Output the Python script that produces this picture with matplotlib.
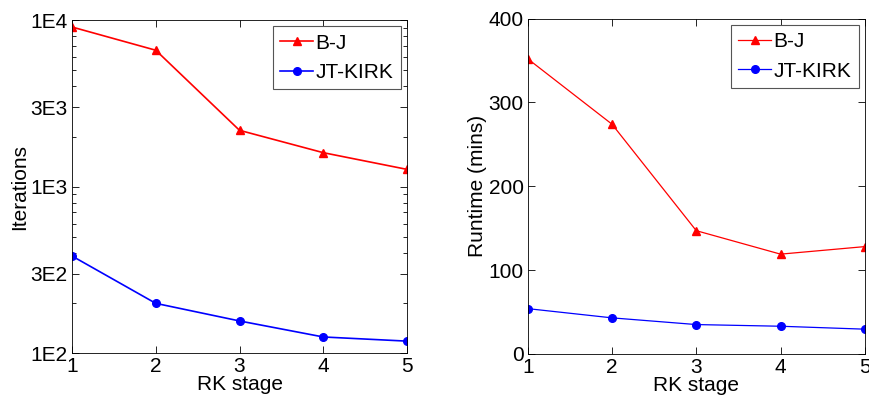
import numpy as np
import matplotlib.pyplot as plt
from matplotlib.ticker import FixedLocator, LogLocator, NullFormatter

stages = [1, 2, 3, 4, 5]
bj_iters = [9100, 6600, 2180, 1600, 1270]
jt_iters = [383, 199, 156, 125, 118]
bj_runtime = [352, 274, 147, 119, 128]
jt_runtime = [54, 43, 35, 33, 29.5]
log_ticks = [100, 300, 1000, 3000, 10000]
log_labels = ['1E2', '3E2', '1E3', '3E3', '1E4']

plt.rcParams['font.family'] = 'Liberation Sans'
fs = 15

fig = plt.figure(figsize=(8.7, 4.04), dpi=100)
ax1 = fig.add_axes([0.0828, 0.126, 0.385, 0.824])
ax2 = fig.add_axes([0.6066, 0.124, 0.3874, 0.83])

# left panel: iterations, log scale
ax1.semilogy(stages, bj_iters, '-^', color='red', lw=1.2, ms=5.5, label='B-J')
ax1.semilogy(stages, jt_iters, '-o', color='blue', lw=1.2, ms=5.5, label='JT-KIRK')
ax1.set_xlim(1, 5)
ax1.set_ylim(100, 10000)
ax1.yaxis.set_major_locator(FixedLocator(log_ticks))
ax1.set_yticklabels(log_labels)
ax1.yaxis.set_minor_locator(LogLocator(base=10, subs=np.arange(2, 10)))
ax1.yaxis.set_minor_formatter(NullFormatter())
ax1.set_xticks(stages)
ax1.set_xlabel('RK stage', fontsize=fs, labelpad=-1)
ax1.set_ylabel('Iterations', fontsize=fs, labelpad=1)

# right panel: runtime
ax2.plot(stages, bj_runtime, '-^', color='red', lw=0.9, ms=5.5, label='B-J')
ax2.plot(stages, jt_runtime, '-o', color='blue', lw=0.9, ms=5.5, label='JT-KIRK')
ax2.set_xlim(1, 5)
ax2.set_ylim(0, 400)
ax2.set_xticks(stages)
ax2.set_yticks([0, 100, 200, 300, 400])
ax2.set_xlabel('RK stage', fontsize=fs, labelpad=-1)
ax2.set_ylabel('Runtime (mins)', fontsize=fs, labelpad=1)

for ax in (ax1, ax2):
    ax.tick_params(which='both', direction='in', top=True, right=True, labelsize=fs, pad=3)
    ax.tick_params(which='major', length=5, width=0.6)
    ax.tick_params(which='minor', length=3, width=0.6)
    for s in ax.spines.values():
        s.set_linewidth(0.6)
    leg = ax.legend(loc='upper right', fontsize=fs, fancybox=False, framealpha=1,
                    edgecolor='#555555', borderaxespad=0.3, handlelength=1.6,
                    handletextpad=0.1, borderpad=0.35, labelspacing=0.5)
    leg.get_frame().set_linewidth(0.8)

fig.savefig('out.png', dpi=100)
